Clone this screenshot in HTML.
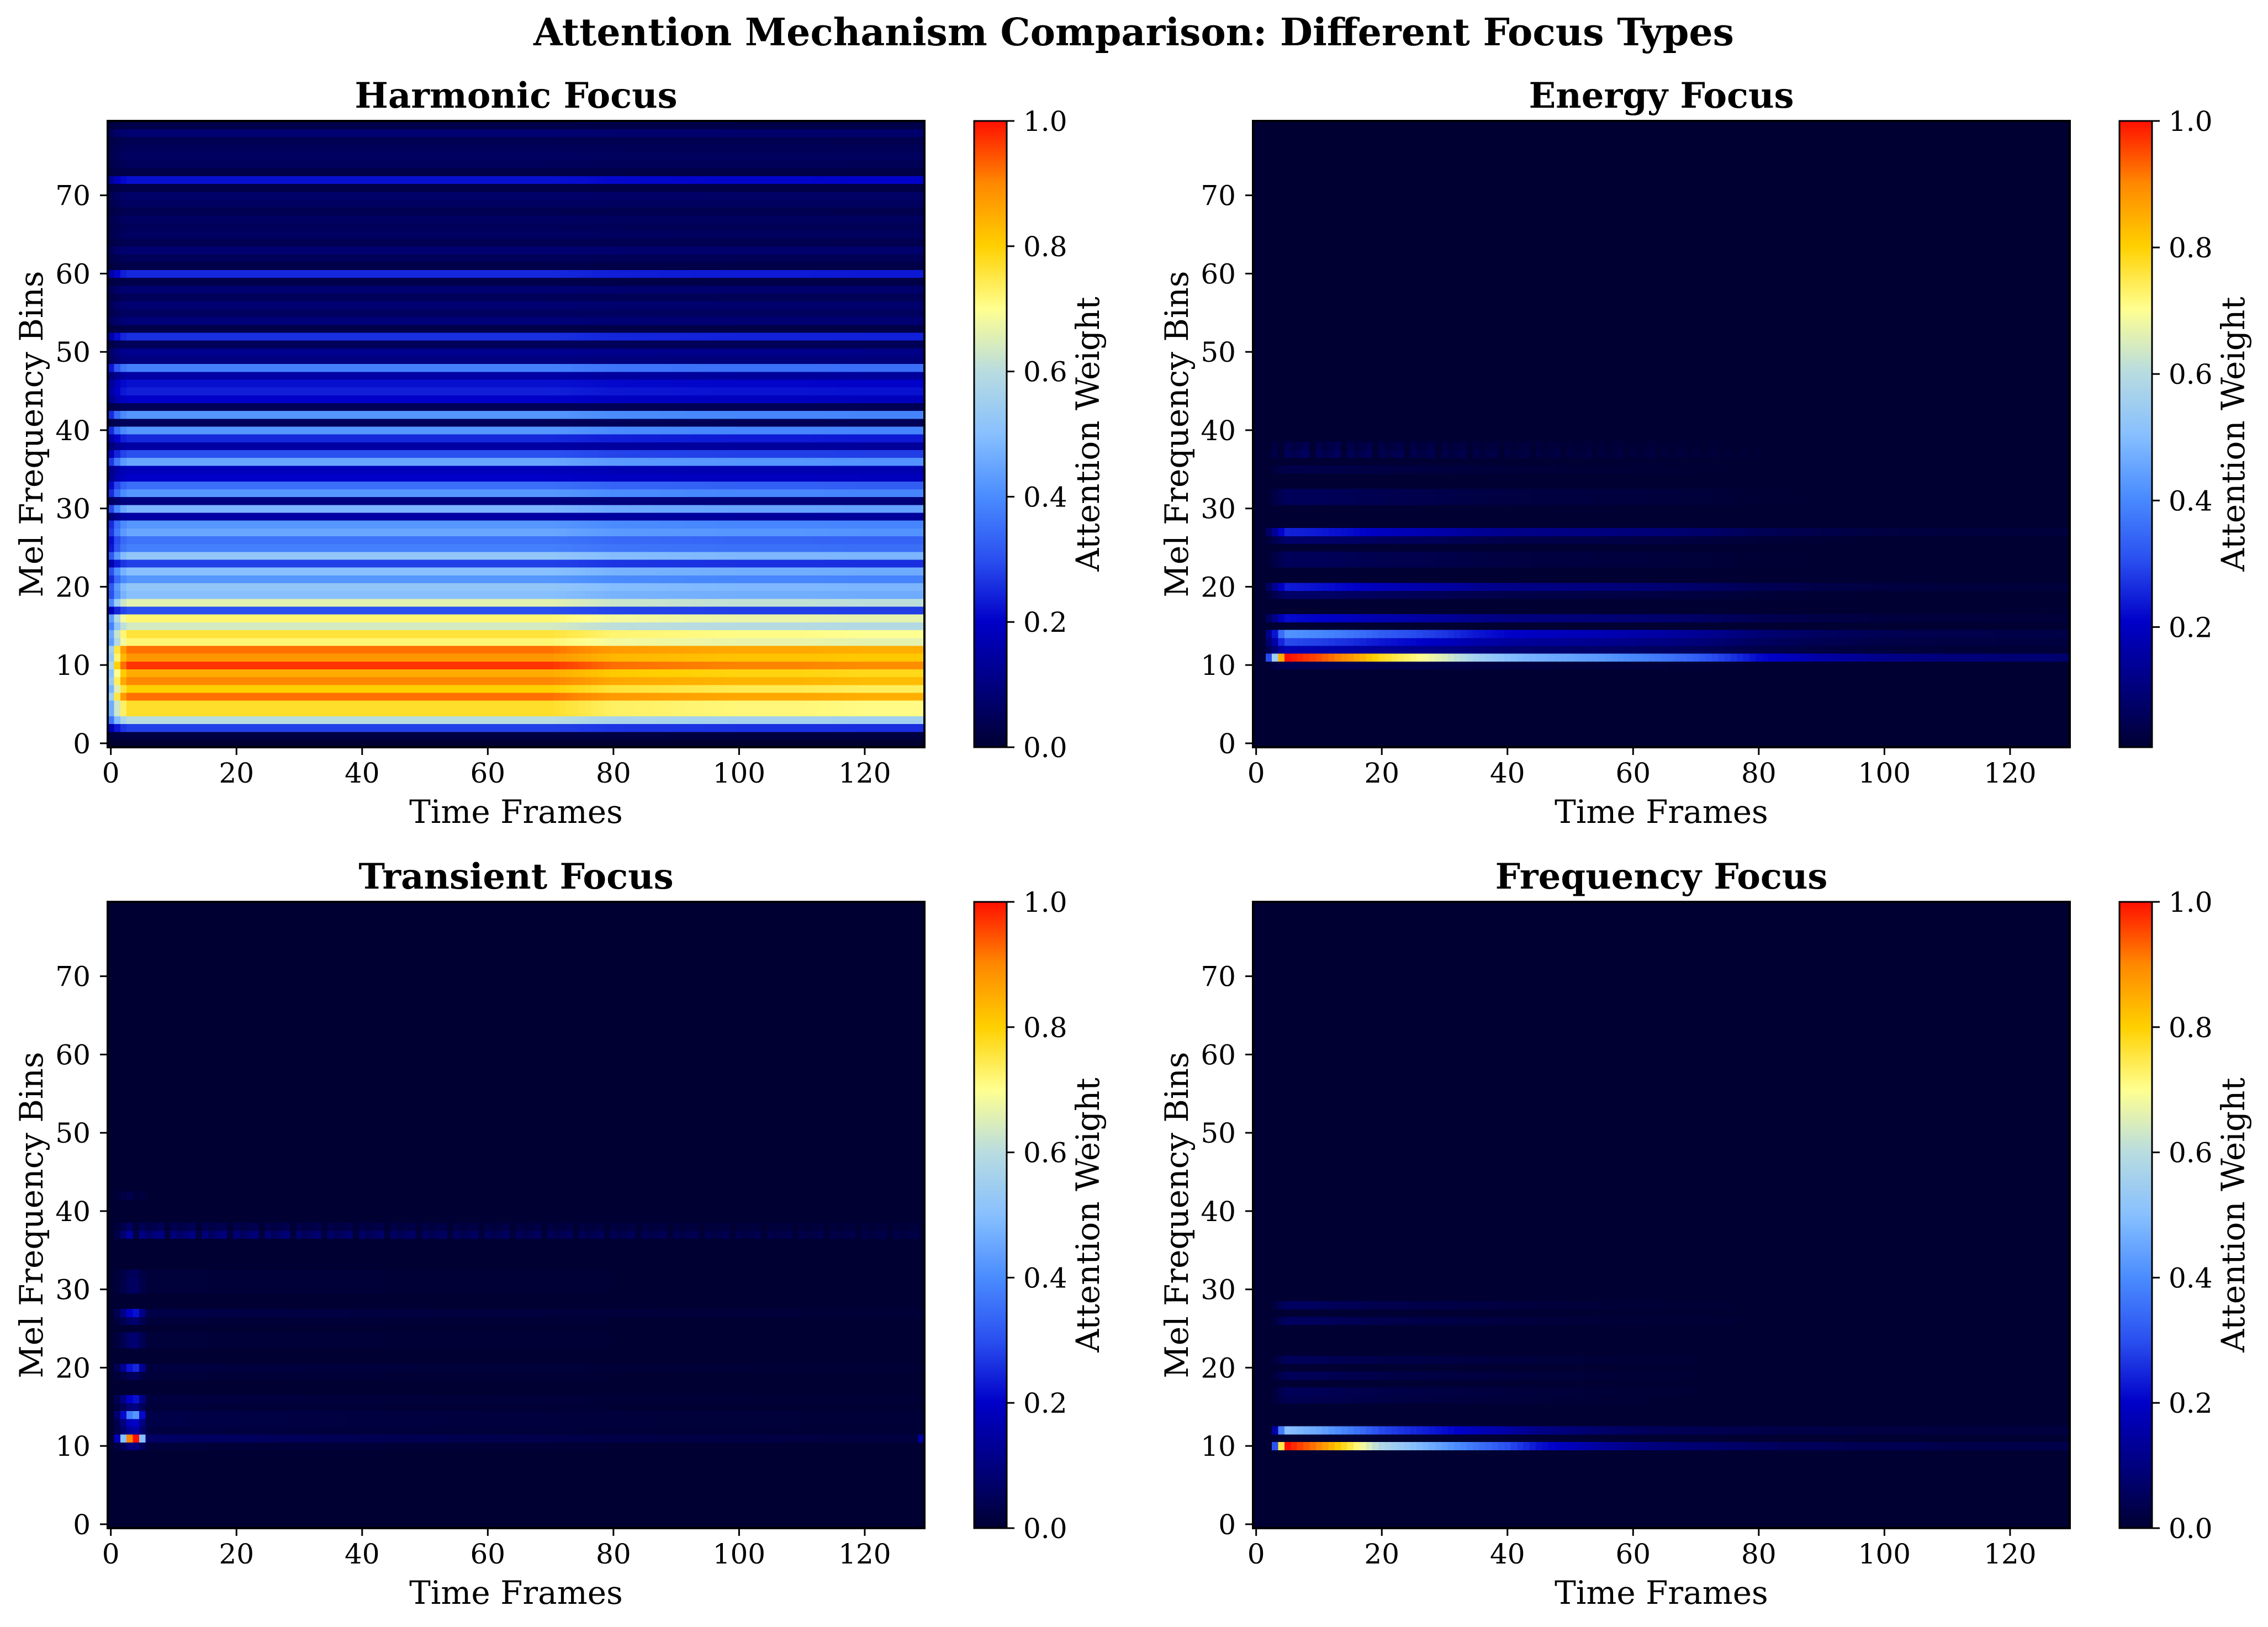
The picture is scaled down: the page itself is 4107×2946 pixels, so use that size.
<!DOCTYPE html>
<html><head><meta charset="utf-8"><title>Attention Mechanism Comparison</title>
<style>html,body{margin:0;padding:0;background:#fff}svg{display:block}text{font-family:"DejaVu Serif","Liberation Serif",serif;fill:#000}</style>
</head><body>
<svg id="fig" width="4107" height="2946" viewBox="0 0 4107 2946" xmlns="http://www.w3.org/2000/svg">
<rect width="4107" height="2946" fill="#fff"/>
<text x="2053" y="82" text-anchor="middle" font-size="68" font-weight="bold">Attention Mechanism Comparison: Different Focus Types</text>
</svg>
<script>
// ---------- data ----------
const nFrames = 130;
const nBins = 80;
const xTicks = [0,20,40,60,80,100,120];
const yTicks = [0,10,20,30,40,50,60,70];
const cbTicks = [0.0,0.2,0.4,0.6,0.8,1.0];
const cbTicksEnergy = [0.2,0.4,0.6,0.8,1.0];
const titles = ["Harmonic Focus","Energy Focus","Transient Focus","Frequency Focus"];

// Harmonic: per-bin level (bin 0..79)
const harmonicRows = [0.0,0.02,0.28,0.6,0.77,0.77,0.92,0.8,0.9,0.85,
  0.97,0.88,0.92,0.72,0.76,0.64,0.72,0.3,0.66,0.5,
  0.52,0.42,0.5,0.28,0.52,0.38,0.36,0.45,0.42,0.15,
  0.48,0.1,0.42,0.35,0.2,0.18,0.45,0.3,0.15,0.25,
  0.42,0.05,0.42,0.05,0.2,0.24,0.22,0.15,0.38,0.1,
  0.12,0.05,0.26,0.03,0.09,0.06,0.08,0.05,0.08,0.03,
  0.25,0.03,0.05,0.08,0.04,0.06,0.05,0.06,0.04,0.06,
  0.07,0.03,0.22,0.03,0.05,0.06,0.05,0.04,0.08,0.03];
const harmonicOnset = [0.6,0.82,0.95];
const harmonicTimeGain = [1,1,1,1,1,1,1,1,0.95,0.94,0.93,0.93,0.92,0.92]; // per 10 frames

// Energy
const energyBins  = [11,10,12,13,14,16,19,20,23,24,26,27,31,32,35,37,38];
const energyPeaks = [1.0,0.05,0.18,0.3,0.42,0.22,0.08,0.24,0.06,0.06,0.08,0.25,0.06,0.06,0.04,0.07,0.05];
const energyOnset = [0.0,0.02,0.3,0.55,0.85];
const energyDecay = [1.0,0.95,0.88,0.78,0.72,0.65,0.56,0.5,0.47,0.45,0.43,0.4,0.37,0.33,0.28,0.22,0.19,0.16,0.14,0.12,0.11,0.1,0.1,0.09,0.09,0.08]; // every 5 frames from frame 5

// Transient
const transientBins  = [11,10,12,13,14,15,16,19,20,23,24,26,27,30,31,32,37,38,42];
const transientPeaks = [1.0,0.1,0.15,0.2,0.42,0.1,0.22,0.05,0.25,0.08,0.08,0.08,0.22,0.06,0.06,0.05,0.16,0.07,0.04];
const transientTails = [0.07,0.01,0.02,0.03,0.03,0.01,0.02,0.01,0.02,0.01,0.01,0.01,0.03,0.01,0.01,0.01,0.12,0.05,0.0];
const transientOnset = [0.0,0.18,0.5,0.9,1.0,0.5];
const transientTailDecay = [1.0,0.9,0.8,0.7,0.6,0.55,0.5,0.45,0.4,0.35,0.3,0.28,0.25,0.22]; // every 10 frames

// Frequency
const freqBins  = [10,12,16,17,19,21,26,28];
const freqPeaks = [1.0,0.5,0.04,0.05,0.05,0.05,0.06,0.06];
const freqOnset = [0.0,0.0,0.0,0.3,0.75];
const freqDecay = [1.0,0.9,0.75,0.58,0.5,0.43,0.36,0.3,0.22,0.18,0.14,0.11,0.09,0.08,0.07,0.06,0.05,0.05,0.04,0.04,0.04,0.03,0.03,0.03,0.03,0.03];
const checkerPattern = [0.9,0.6,0.8,1.0,0.15];

// colormap stops
const cmapPos = [0,0.1,0.2,0.3,0.4,0.5,0.6,0.7,0.8,0.9,1.0];
const cmapCol = ["#000033","#000080","#0000c8","#2a50f0","#4a8cff","#88c0ff","#b8dce0","#ffff90","#ffd000","#ff8800","#ff1000"];

// ---------- helpers ----------
const NS = "http://www.w3.org/2000/svg";
const fig = document.getElementById('fig');
function mk(tag, attrs, parent){const e=document.createElementNS(NS,tag);for(const k in attrs)e.setAttribute(k,attrs[k]);(parent||fig).appendChild(e);return e;}
function hex(c){return [parseInt(c.substr(1,2),16),parseInt(c.substr(3,2),16),parseInt(c.substr(5,2),16)];}
function cmap(v){v=Math.max(0,Math.min(1,v));for(let i=1;i<cmapPos.length;i++){if(v<=cmapPos[i]){const t=(v-cmapPos[i-1])/(cmapPos[i]-cmapPos[i-1]);const a=hex(cmapCol[i-1]),b=hex(cmapCol[i]);return 'rgb('+a.map((x,j)=>Math.round(x+(b[j]-x)*t)).join(',')+')';}}return cmapCol[cmapCol.length-1];}
function sample(arr, pos){if(pos<=0)return arr[0];const i=Math.floor(pos);if(i>=arr.length-1)return arr[arr.length-1];const t=pos-i;return arr[i]+(arr[i+1]-arr[i])*t;}
function envelope(onset, decay, step, f){if(f<onset.length)return onset[f];return sample(decay,(f-onset.length)/step);}

const panels = [
  {x:195,y:219,vmin:0,ticks:cbTicks},
  {x:2269,y:219,vmin:0.01,ticks:cbTicksEnergy},
  {x:195,y:1633,vmin:0,ticks:cbTicks},
  {x:2269,y:1633,vmin:0,ticks:cbTicks}];
const W=1479,H=1134;

function valueGrid(p){
  const g=[];for(let b=0;b<nBins;b++){g.push(new Array(nFrames).fill(0));}
  if(p===0){
    for(let b=0;b<nBins;b++)for(let f=0;f<nFrames;f++){
      const on=f<harmonicOnset.length?harmonicOnset[f]:1;
      g[b][f]=harmonicRows[b]*on*sample(harmonicTimeGain,f/10);}
  } else if(p===1){
    energyBins.forEach((b,i)=>{for(let f=0;f<nFrames;f++){let v=energyPeaks[i]*envelope(energyOnset,energyDecay,5,f);if(b>=37)v*=checkerPattern[f%5];g[b][f]=v;}});
  } else if(p===2){
    transientBins.forEach((b,i)=>{for(let f=0;f<nFrames;f++){let v;if(f<transientOnset.length)v=Math.max(transientPeaks[i]*transientOnset[f],f>=5?transientTails[i]:0);else v=transientTails[i]*sample(transientTailDecay,f/10);if(b>=37&&f>=3)v*=checkerPattern[f%5];g[b][f]=v;}});
    g[11][129]=0.15;
  } else {
    freqBins.forEach((b,i)=>{for(let f=0;f<nFrames;f++){g[b][f]=freqPeaks[i]*envelope(freqOnset,freqDecay,5,f);}});
  }
  return g;
}

panels.forEach((P,pi)=>{
  const grp=mk('g',{});
  
  
  const xs=v=>P.x+(v+0.5)*W/nFrames;
  const ys=v=>P.y+H-(v+0.5)*H/nBins;
  const cw=W/nFrames,ch=H/nBins;
  const bg=mk('rect',{x:P.x,y:P.y,width:W,height:H,fill:cmap(0)},grp);
  
  
  const g=valueGrid(pi);
  const norm=v=>(v-P.vmin)/(1-P.vmin);
  const cells=mk('g',{'shape-rendering':'crispEdges'},grp);
  
  
  for(let b=0;b<nBins;b++)for(let f=0;f<nFrames;f++){
    const v=g[b][f];if(v<=0.004)continue;
    const r=mk('rect',{x:(xs(f)-cw/2).toFixed(2),y:(ys(b)-ch/2).toFixed(2),width:(cw+0.7).toFixed(2),height:(ch+0.7).toFixed(2),fill:cmap(norm(v))},cells);
    
    
  }
  const frame=mk('rect',{x:P.x,y:P.y,width:W,height:H,fill:'none',stroke:'#000',"stroke-width":4},grp);
  
  
  xTicks.forEach(t=>{
    const l=mk('line',{x1:xs(t),x2:xs(t),y1:P.y+H,y2:P.y+H+14,stroke:'#000','stroke-width':3},grp);
    
    
    const tx=mk('text',{x:xs(t),y:P.y+H+64,'text-anchor':'middle','font-size':50},grp);tx.textContent=t;
    
    
  });
  yTicks.forEach(t=>{
    const l=mk('line',{x1:P.x-14,x2:P.x,y1:ys(t),y2:ys(t),stroke:'#000','stroke-width':3},grp);
    
    
    const tx=mk('text',{x:P.x-31,y:ys(t)+18,'text-anchor':'end','font-size':50},grp);tx.textContent=t;
    
    
  });
  const xl=mk('text',{x:P.x+W/2,y:P.y+H+137,'text-anchor':'middle','font-size':58},grp);xl.textContent='Time Frames';
  
  
  const yl=mk('text',{x:0,y:0,'text-anchor':'middle','font-size':58,transform:'translate('+(P.x-118)+','+(P.y+H/2)+') rotate(-90)'},grp);yl.textContent='Mel Frequency Bins';
  
  
  const tt=mk('text',{x:P.x+W/2,y:P.y-24,'text-anchor':'middle','font-size':64,'font-weight':'bold'},grp);tt.textContent=titles[pi];
  
  
  const cx=P.x+1569,cwid=59;
  const gid='cbg'+pi;
  const defs=mk('defs',{},grp);
  const lg=mk('linearGradient',{id:gid,x1:0,y1:1,x2:0,y2:0},defs);
  for(let i=0;i<=40;i++){const f=i/40;mk('stop',{offset:f,'stop-color':cmap(f)},lg);}
  const cb=mk('rect',{x:cx,y:P.y,width:cwid,height:H,fill:'url(#'+gid+')',stroke:'#000','stroke-width':3},grp);
  
  
  const cby=v=>P.y+H-(v-P.vmin)/(1-P.vmin)*H;
  P.ticks.forEach(t=>{
    const l=mk('line',{x1:cx+cwid,x2:cx+cwid+14,y1:cby(t),y2:cby(t),stroke:'#000','stroke-width':3},grp);
    
    
    const tx=mk('text',{x:cx+89,y:cby(t)+18,'font-size':50},grp);tx.textContent=t.toFixed(1);
    
    
  });
  const cl=mk('text',{x:0,y:0,'text-anchor':'middle','font-size':58,transform:'translate('+(cx+cwid+167)+','+(P.y+H/2)+') rotate(-90)'},grp);cl.textContent='Attention Weight';
  
  
});
</script>
</body></html>
